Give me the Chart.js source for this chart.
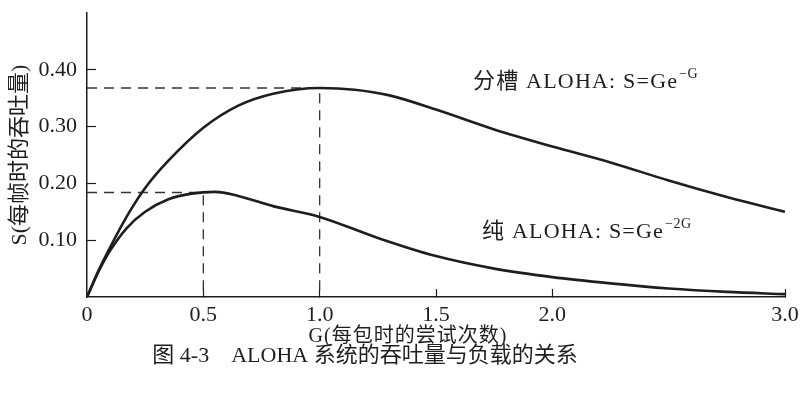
<!DOCTYPE html>
<html>
<head>
<meta charset="utf-8">
<script src="https://cdn.jsdelivr.net/npm/chart.js@4/dist/chart.umd.min.js"></script>
<style>
html,body{margin:0;padding:0;background:#fff;}
#wrap{width:806px;height:398px;}
</style>
</head>
<body>
<div id="wrap"><canvas id="c" width="806" height="398"></canvas></div>
<script>
// ---- data ----
const gSlotted = [0, 0.05, 0.1, 0.18, 0.25, 0.35, 0.5, 0.65, 0.8, 1.0, 1.15, 1.3, 1.5, 1.75, 2.0, 2.25, 2.5, 2.75, 3.0];
const sSlotted = [0, 0.047, 0.088, 0.148, 0.192, 0.240, 0.298, 0.337, 0.358, 0.368, 0.365, 0.355, 0.330, 0.295, 0.265, 0.237, 0.205, 0.176, 0.150];
const gPure = [0, 0.05, 0.1, 0.17, 0.25, 0.35, 0.45, 0.55, 0.65, 0.8, 1.0, 1.25, 1.5, 1.75, 2.0, 2.25, 2.5, 2.75, 3.0];
const sPure = [0, 0.045, 0.082, 0.121, 0.150, 0.172, 0.182, 0.185, 0.178, 0.160, 0.141, 0.104, 0.072, 0.050, 0.035, 0.024, 0.015, 0.009, 0.005];
const slottedPeakG = [0, 1.0, 1.0];
const slottedPeakS = [0.368, 0.368, 0];
const purePeakG = [0, 0.5, 0.5];
const purePeakS = [0.184, 0.184, 0];
const xTickValues = [0, 0.5, 1.0, 1.5, 2.0, 2.5, 3.0];
const xTickLabels = ['0', '0.5', '1.0', '1.5', '2.0', '', '3.0'];
const yTickValues = [0, 0.1, 0.2, 0.3, 0.4, 0.5];
const yTickLabels = ['', '0.10', '0.20', '0.30', '0.40', ''];
const yTitle = 'S(每帧时的吞吐量)';
const xTitle = 'G(每包时的尝试次数)';
const caption = '图 4-3\u2003ALOHA 系统的吞吐量与负载的关系';
const slottedLabel = ['分槽 ALOHA: S=Ge', '\u2212G'];
const pureLabel = ['纯 ALOHA: S=Ge', '\u22122G'];

const FONT = "'Liberation Serif', 'Noto Sans CJK SC', serif";
const INK = '#1e1e1e';

function pts(xs, ys){ return xs.map((x,i)=>({x:x, y:ys[i]})); }

const textPlugin = {
  id: 'texts',
  afterDraw(chart){
    const ctx = chart.ctx;
    ctx.save();
    ctx.fillStyle = INK;
    ctx.textBaseline = 'middle';
    ctx.textAlign = 'center';
    ctx.font = '20px ' + FONT;
    ctx.letterSpacing = '1px';
    ctx.fillText(xTitle, 408, 337);
    ctx.letterSpacing = '0px';
    ctx.font = '22px ' + FONT;
    ctx.fillText(caption, 365, 356);
    function sup(parts, x, y){
      ctx.textAlign = 'left';
      ctx.textBaseline = 'alphabetic';
      ctx.font = '22px ' + FONT;
      ctx.letterSpacing = '1.2px';
      ctx.fillText(parts[0], x, y);
      const w = ctx.measureText(parts[0]).width;
      ctx.font = '14px ' + FONT;
      ctx.letterSpacing = '0.5px';
      ctx.fillText(parts[1], x + w + 1, y - 10);
      ctx.letterSpacing = '0px';
    }
    sup(slottedLabel, 473, 88);
    sup(pureLabel, 482, 238);
    ctx.restore();
  }
};

new Chart(document.getElementById('c'), {
  type: 'line',
  data: {
    datasets: [
      {data: pts(gSlotted, sSlotted), borderColor: INK, borderWidth: 2.6, pointRadius: 0, cubicInterpolationMode: 'monotone', fill: false},
      {data: pts(gPure, sPure), borderColor: INK, borderWidth: 2.6, pointRadius: 0, cubicInterpolationMode: 'monotone', fill: false},
      {data: pts(slottedPeakG, slottedPeakS), borderColor: '#333', borderWidth: 1.3, borderDash: [10, 7], pointRadius: 0, tension: 0, fill: false},
      {data: pts(purePeakG, purePeakS), borderColor: '#333', borderWidth: 1.3, borderDash: [10, 7], pointRadius: 0, tension: 0, fill: false}
    ]
  },
  options: {
    responsive: false,
    animation: false,
    devicePixelRatio: 1,
    layout: {padding: {top: 13, right: 21, left: 0, bottom: 0}},
    plugins: {legend: {display: false}, tooltip: {enabled: false}},
    scales: {
      x: {
        type: 'linear', min: 0, max: 3,
        afterBuildTicks(s){ s.ticks = xTickValues.map(v=>({value:v})); },
        afterFit(s){ s.height = 101; s.paddingLeft = 0; s.paddingRight = 0; },
        grid: {drawOnChartArea: false, tickLength: -8, tickWidth: 1.2,
               tickColor: (c)=> (c.tick && (c.tick.value === 2.5 || c.tick.value === 0)) ? 'rgba(0,0,0,0)' : INK},
        border: {color: INK, width: 1.5},
        ticks: {
          autoSkip: false, maxRotation: 0, padding: 13, color: INK,
          font: {family: FONT, size: 22},
          callback: (v)=>{ const i = xTickValues.indexOf(v); return i >= 0 ? xTickLabels[i] : ''; }
        }
      },
      y: {
        type: 'linear', min: 0, max: 0.5,
        afterBuildTicks(s){ s.ticks = yTickValues.map(v=>({value:v})); },
        afterFit(s){ s.width = 87; s.paddingTop = 0; s.paddingBottom = 0; },
        grid: {drawOnChartArea: false, tickLength: -9, tickWidth: 1.2,
               tickColor: (c)=> (c.tick && (c.tick.value === 0 || c.tick.value === 0.5)) ? 'rgba(0,0,0,0)' : INK},
        border: {color: INK, width: 1.5},
        ticks: {
          padding: 19, color: INK,
          font: {family: FONT, size: 22},
          callback: (v)=>{ const i = yTickValues.findIndex(t=>Math.abs(t-v)<1e-9); return i >= 0 ? yTickLabels[i] : ''; }
        },
        title: {display: true, text: yTitle, color: INK, font: {family: FONT, size: 22}, padding: {top: 7, bottom: 0}}
      }
    }
  },
  plugins: [textPlugin]
});
</script>
</body>
</html>
